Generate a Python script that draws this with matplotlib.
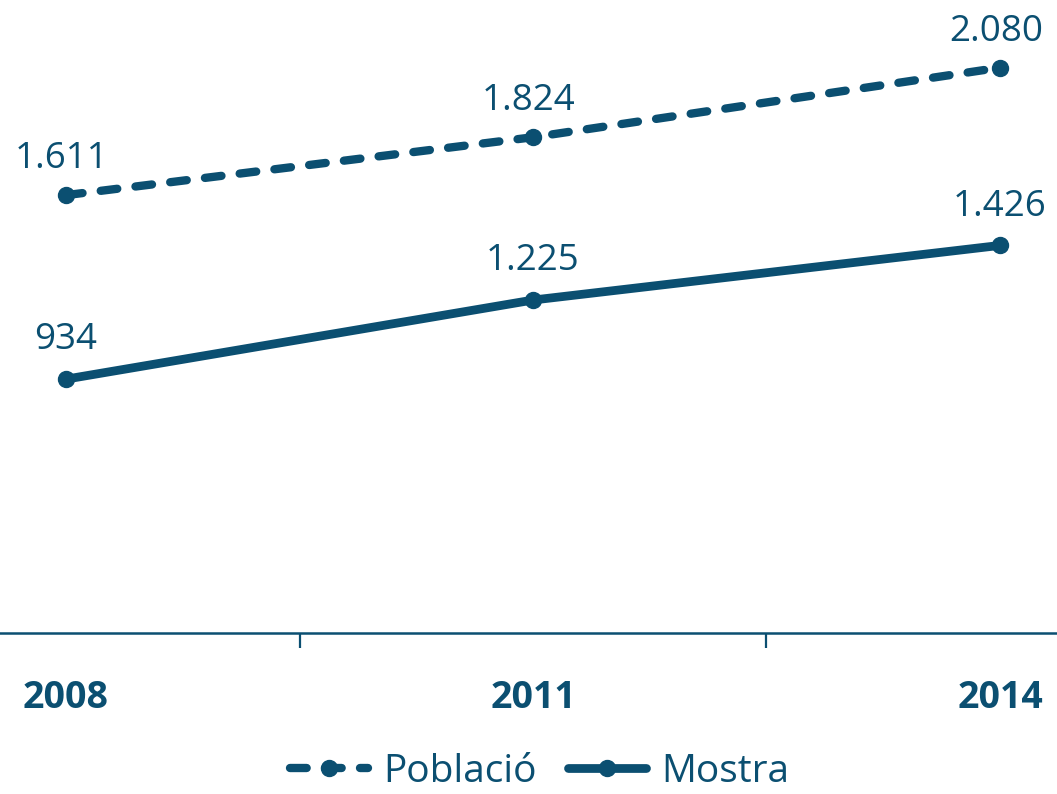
import matplotlib
matplotlib.use("Agg")
import matplotlib.pyplot as plt

years = ["2008", "2011", "2014"]
poblacio = [1611, 1824, 2080]
mostra = [934, 1225, 1426]
poblacio_labels = ["1.611", "1.824", "2.080"]
mostra_labels = ["934", "1.225", "1.426"]

color = "#0B4F71"
plt.rcParams['font.family'] = ['Open Sans', 'DejaVu Sans']

W, H = 1057, 794
fig = plt.figure(figsize=(W / 100, H / 100), dpi=100)
ax = fig.add_axes([0, (H - 633) / H, 1, 633 / H])

x = list(range(len(years)))
ax.plot(x, poblacio, color=color, lw=6.0, ls=(0, (2.0, 2.2)), marker='o', ms=11.5,
        dash_capstyle='round', solid_capstyle='round', label='Població')
ax.plot(x, mostra, color=color, lw=6.3, marker='o', ms=11.5,
        solid_capstyle='round', label='Mostra')

for xi, v, t in zip(x, poblacio, poblacio_labels):
    ax.annotate(t, (xi, v), xytext=(-3, 26), textcoords='offset points',
                ha='center', va='center', fontsize=26.5, color=color)
for xi, v, t in zip(x, mostra, mostra_labels):
    ax.annotate(t, (xi, v), xytext=(0, 28), textcoords='offset points',
                ha='center', va='center', fontsize=26.5, color=color)

x0 = -66 / 467
x1 = (W - 66) / 467
ax.set_xlim(x0, x1)
ax.set_ylim(0, 633 / 0.2718)

for s in ['top', 'right', 'left']:
    ax.spines[s].set_visible(False)
ax.spines['bottom'].set_color(color)
ax.spines['bottom'].set_linewidth(1.8)
ax.set_yticks([])
ax.set_xticks([0.5, 1.5])
ax.set_xticklabels([])
ax.tick_params(axis='x', length=11, width=1.6, color=color, direction='out')

for xi, yl in zip(x, years):
    ax.annotate(yl, (xi, 0), xytext=(0, -47), textcoords='offset points',
                ha='center', va='center', fontsize=27, fontweight='bold', color=color,
                annotation_clip=False)

fig.legend(loc='center', bbox_to_anchor=(540 / W, 1 - 772 / H), ncol=2, frameon=False,
           fontsize=28, labelcolor=color, handlelength=2.0, handletextpad=0.4,
           columnspacing=0.8, borderpad=0.1)

fig.savefig("out.png", dpi=100)
